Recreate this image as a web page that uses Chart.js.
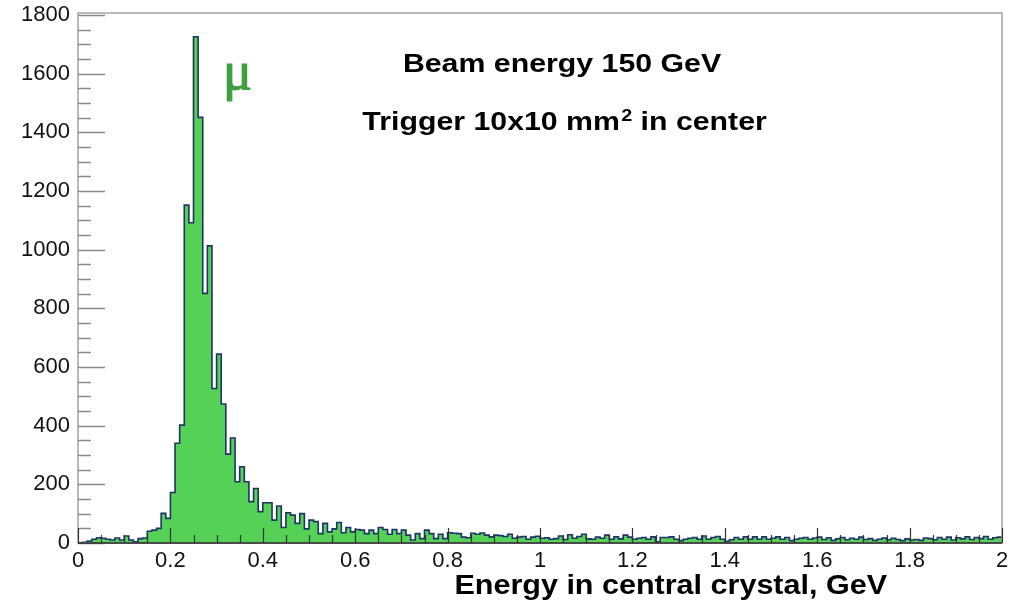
<!DOCTYPE html>
<html>
<head>
<meta charset="utf-8">
<script src="https://cdn.jsdelivr.net/npm/chart.js@4/dist/chart.umd.min.js"></script>
<style>
html,body{margin:0;padding:0;background:#fff;}
#wrap{width:1025px;height:604px;position:relative;}
</style>
</head>
<body>
<div id="wrap"><canvas id="c" width="1025" height="604"></canvas></div>
<script>
// ---- data ----
const binLow = 0;          // GeV, lower edge of first bin
const binWidth = 0.01;     // GeV
const counts = [
  // bins 0-17
  1, 2, 7, 13, 18, 16, 13, 10, 17, 10, 24, 10, 4, 15, 17, 40, 44, 50,
  // bins 18-31
  101, 84, 172, 340, 402, 1152, 1092, 1726, 1451, 851, 1013, 527, 644, 474,
  // bins 32-38
  303, 358, 209, 260, 209, 141, 186,
  // bins 39-80
  107, 137, 137, 78, 126, 53, 103, 95, 67, 100,
  48, 78, 73, 32, 67, 38, 48, 70, 35, 53,
  38, 46, 44, 32, 44, 32, 53, 46, 30, 46,
  32, 44, 27, 10, 32, 15, 44, 32, 15, 30,
  15, 35,
  // bins 81-199
  33, 32, 20, 18, 33, 30, 34, 27, 21, 27,
  25, 22, 30, 16, 20, 22, 13, 20, 23, 16,
  18, 13, 15, 24, 12, 28, 16, 22, 30, 14,
  13, 20, 16, 27, 13, 21, 14, 27, 20, 13,
  16, 19, 13, 21, 4, 19, 19, 21, 13, 8,
  13, 16, 19, 13, 24, 13, 19, 22, 13, 6,
  11, 19, 13, 21, 13, 21, 13, 21, 13, 16,
  21, 13, 19, 8, 13, 16, 19, 13, 17, 20,
  12, 18, 9, 14, 19, 11, 16, 13, 20, 12,
  15, 9, 13, 17, 11, 16, 12, 8, 14, 10,
  12, 9, 17, 15, 11, 19, 13, 20, 10, 18,
  14, 21, 12, 19, 15, 22, 13, 18, 20
];
const xRange = [0, 2];
const xTickValues = [0, 0.2, 0.4, 0.6, 0.8, 1, 1.2, 1.4, 1.6, 1.8, 2];
const xTickLabels = ['0', '0.2', '0.4', '0.6', '0.8', '1', '1.2', '1.4', '1.6', '1.8', '2'];
const xMinorStep = 0.05;
const yRange = [0, 1807];
const yTickValues = [0, 200, 400, 600, 800, 1000, 1200, 1400, 1600, 1800];
const yTickLabels = ['0', '200', '400', '600', '800', '1000', '1200', '1400', '1600', '1800'];
const yMinorStep = 50;
const xTitle = 'Energy in central crystal, GeV';
const line1 = 'Beam energy 150 GeV';
const line2a = 'Trigger 10x10 mm';
const line2sup = '2';
const line2b = ' in center';
const particleLabel = 'μ';

// ---- build histogram outline points from the data ----
const pts = [{x: binLow, y: 0}];
counts.forEach((c, i) => pts.push({x: binLow + i * binWidth, y: c}));
const xEnd = binLow + counts.length * binWidth;
pts.push({x: xEnd, y: counts[counts.length - 1]});
pts.push({x: xEnd, y: 0});

const FONT = "'Liberation Sans', Arial, Helvetica, sans-serif";

const framePlugin = {
  id: 'frameTicks',
  afterDatasetsDraw(chart) {
    const {ctx, chartArea: a, scales: {x, y}} = chart;
    ctx.save();
    // frame
    ctx.strokeStyle = '#a3a3a3';
    ctx.lineWidth = 1.5;
    ctx.strokeRect(a.left, a.top, a.right - a.left, a.bottom - a.top);
    // y ticks
    ctx.strokeStyle = '#8a8a8a';
    ctx.lineWidth = 1.5;
    const yTop = yTickValues[yTickValues.length - 1];
    for (let v = yRange[0]; v <= yTop + 1e-9; v += yMinorStep) {
      const py = Math.round(y.getPixelForValue(v)) + 0.5;
      const len = yTickValues.includes(v) ? 27 : 13;
      ctx.beginPath(); ctx.moveTo(a.left, py); ctx.lineTo(a.left + len, py); ctx.stroke();
    }
    // x ticks
    ctx.strokeStyle = '#333';
    ctx.lineWidth = 1.2;
    const nMinor = Math.round((xRange[1] - xRange[0]) / xMinorStep);
    for (let i = 0; i <= nMinor; i++) {
      const v = xRange[0] + i * xMinorStep;
      const px = Math.round(x.getPixelForValue(v)) + 0.5;
      const major = xTickValues.some(t => Math.abs(t - v) < 1e-6);
      const len = major ? 15 : 8;
      ctx.beginPath(); ctx.moveTo(px, a.bottom); ctx.lineTo(px, a.bottom - len); ctx.stroke();
    }
    // bottom axis line
    ctx.strokeStyle = '#2a2a2a';
    ctx.lineWidth = 1.5;
    ctx.beginPath(); ctx.moveTo(a.left, a.bottom); ctx.lineTo(a.right, a.bottom); ctx.stroke();
    ctx.restore();
  },
  afterDraw(chart) {
    const {ctx} = chart;
    ctx.save();
    ctx.fillStyle = '#000';
    ctx.textBaseline = 'alphabetic';
    // line 1
    ctx.font = 'bold 26px ' + FONT;
    let w = ctx.measureText(line1).width;
    ctx.save();
    ctx.translate(562, 72);
    ctx.scale(1.165, 1);
    ctx.fillText(line1, -w / 2, 0);
    ctx.restore();
    // line 2 with superscript
    ctx.font = 'bold 26px ' + FONT;
    const wa = ctx.measureText(line2a).width;
    const wb = ctx.measureText(line2b).width;
    ctx.font = 'bold 17px ' + FONT;
    const ws = ctx.measureText(line2sup).width;
    const tot = wa + ws + wb;
    ctx.save();
    ctx.translate(564, 130);
    ctx.scale(1.165, 1);
    let x0 = -tot / 2;
    ctx.font = 'bold 26px ' + FONT;
    ctx.fillText(line2a, x0, 0);
    ctx.font = 'bold 17px ' + FONT;
    ctx.fillText(line2sup, x0 + wa + 1, -9);
    ctx.font = 'bold 26px ' + FONT;
    ctx.fillText(line2b, x0 + wa + ws + 1, 0);
    ctx.restore();
    // x-axis title
    ctx.font = 'bold 28px ' + FONT;
    w = ctx.measureText(xTitle).width;
    ctx.save();
    ctx.translate(887, 594);
    ctx.scale(1.09, 1);
    ctx.fillText(xTitle, -w, 0);
    ctx.restore();
    // mu
    ctx.fillStyle = '#3e9f3e';
    ctx.strokeStyle = '#3e9f3e';
    ctx.lineWidth = 1.2;
    ctx.font = "54px 'Liberation Serif', 'DejaVu Serif', serif";
    ctx.fillText(particleLabel, 223, 89);
    ctx.strokeText(particleLabel, 223, 89);
    ctx.restore();
  }
};

new Chart(document.getElementById('c'), {
  type: 'line',
  data: {
    datasets: [{
      data: pts,
      stepped: 'before',
      fill: 'origin',
      backgroundColor: '#55d155',
      borderColor: '#1d3468',
      borderWidth: 1.6,
      pointRadius: 0,
      pointHoverRadius: 0,
      tension: 0
    }]
  },
  options: {
    responsive: false,
    animation: false,
    events: [],
    layout: {padding: {top: 13, right: 23, left: 0, bottom: 0}},
    plugins: {legend: {display: false}, tooltip: {enabled: false}, title: {display: false}},
    scales: {
      x: {
        type: 'linear',
        min: xRange[0], max: xRange[1],
        grid: {display: false, drawTicks: false},
        border: {display: false},
        afterBuildTicks(s) { s.ticks = xTickValues.map(v => ({value: v})); },
        afterFit(s) { s.height = 61; s.paddingLeft = 0; s.paddingRight = 0; },
        ticks: {
          padding: 5,
          color: '#111',
          font: {family: FONT, size: 22},
          maxRotation: 0,
          autoSkip: false,
          callback: (v, i) => xTickLabels[i]
        }
      },
      y: {
        type: 'linear',
        min: yRange[0], max: yRange[1],
        grid: {display: false, drawTicks: false},
        border: {display: false},
        afterBuildTicks(s) { s.ticks = yTickValues.map(v => ({value: v})); },
        afterFit(s) { s.width = 78; s.paddingTop = 0; s.paddingBottom = 0; },
        ticks: {
          padding: 8,
          color: '#111',
          font: {family: FONT, size: 22},
          autoSkip: false,
          callback: (v, i) => yTickLabels[i]
        }
      }
    }
  },
  plugins: [framePlugin]
});
</script>
</body>
</html>
